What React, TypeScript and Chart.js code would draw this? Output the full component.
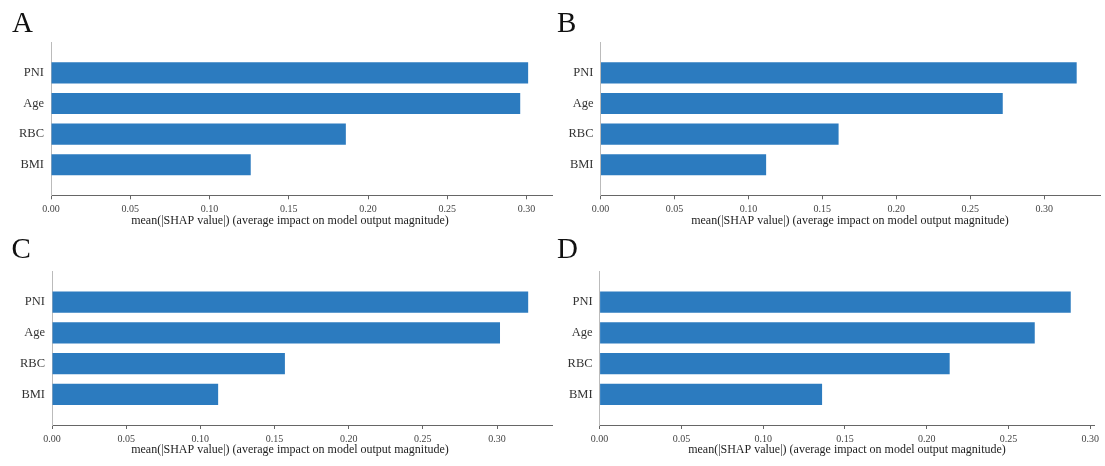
import React, { useEffect, useRef } from 'react';
import { Chart, registerables } from 'chart.js';

Chart.register(...registerables);

// ---- data ----
const features = ['PNI', 'Age', 'RBC', 'BMI'];
const valuesA = [0.301, 0.296, 0.186, 0.126];
const valuesB = [0.322, 0.272, 0.161, 0.112];
const valuesC = [0.321, 0.302, 0.157, 0.112];
const valuesD = [0.288, 0.266, 0.214, 0.136];
const panelLetters = ['A', 'B', 'C', 'D'];
const xTickStep = 0.05;
const xTitle = 'mean(|SHAP value|) (average impact on model output magnitude)';

// ---- layout / style ----
const W = 1105;
const H = 466;
const XH = 32;
const FONT = "'Liberation Serif', 'Times New Roman', serif";
const BAR = '#2c7bbf';

const panels = [
  { values: valuesA, left: 51, right: 552, top: 42.3, bottom: 195.3, titleX: 290, titleY: 220.5, lx: 12, ly: 8 },
  { values: valuesB, left: 600.5, right: 1100.5, top: 42.3, bottom: 195.3, titleX: 850, titleY: 220.5, lx: 557, ly: 8 },
  { values: valuesC, left: 52, right: 552, top: 271.5, bottom: 425, titleX: 290, titleY: 450, lx: 11.5, ly: 234 },
  { values: valuesD, left: 599.6, right: 1094.3, top: 271.5, bottom: 425, titleX: 847, titleY: 450, lx: 557, ly: 234 },
];

const titlePlugin = {
  id: 'xTitleText',
  afterDraw(chart: any, _args: any, opts: any) {
    const ctx = chart.ctx;
    ctx.save();
    ctx.font = `12px ${FONT}`;
    ctx.fillStyle = '#222';
    ctx.textAlign = 'center';
    ctx.textBaseline = 'middle';
    ctx.fillText(opts.text, opts.x, opts.y);
    ctx.restore();
  },
};

function makeChart(canvas: HTMLCanvasElement, p: any) {
  const labels = ['', ...features, ''];
  const data = [null, ...p.values, null];
  const max = Math.max(...p.values) * 1.05;
  return new Chart(canvas, {
    type: 'bar',
    data: {
      labels,
      datasets: [
        {
          data,
          backgroundColor: BAR,
          borderWidth: 0,
          barPercentage: 0.69,
          categoryPercentage: 1,
        },
      ],
    },
    plugins: [titlePlugin],
    options: {
      indexAxis: 'y',
      responsive: false,
      animation: false,
      devicePixelRatio: 1,
      layout: {
        padding: { left: 0, top: p.top, right: W - p.right, bottom: H - p.bottom - XH },
      },
      plugins: {
        legend: { display: false },
        tooltip: { enabled: false },
        xTitleText: { text: xTitle, x: p.titleX, y: p.titleY },
      } as any,
      scales: {
        x: {
          type: 'linear',
          min: 0,
          max,
          afterFit: (s: any) => {
            s.height = XH;
          },
          ticks: {
            stepSize: xTickStep,
            includeBounds: false,
            autoSkip: false,
            maxRotation: 0,
            padding: 4,
            color: '#444',
            font: { family: FONT, size: 10 },
            callback: (v: any) => Number(v).toFixed(2),
          },
          grid: { display: true, drawOnChartArea: false, drawTicks: true, tickLength: 4, color: '#666', lineWidth: 1 },
          border: { display: true, color: '#666', width: 1 },
        },
        y: {
          type: 'category',
          offset: false,
          afterFit: (s: any) => {
            s.width = p.left;
          },
          grid: { display: false, drawTicks: false },
          border: { display: true, color: '#bbb', width: 1 },
          ticks: { padding: 7, color: '#333', font: { family: FONT, size: 12.5 }, autoSkip: false },
        },
      },
    } as any,
  });
}

function Panel({ p }: { p: any }) {
  const ref = useRef<HTMLCanvasElement | null>(null);
  useEffect(() => {
    if (!ref.current) return;
    const c = makeChart(ref.current, p);
    return () => c.destroy();
  }, [p]);
  return (
    <canvas
      ref={ref}
      width={W}
      height={H}
      style={{ position: 'absolute', left: 0, top: 0, width: W, height: H }}
    />
  );
}

export default function App() {
  return (
    <div style={{ position: 'fixed', left: 0, top: 0, width: W, height: H, background: '#fff', overflow: 'hidden' }}>
      {panels.map((p, i) => (
        <Panel key={i} p={p} />
      ))}
      {panels.map((p, i) => (
        <div
          key={'l' + i}
          style={{
            position: 'absolute',
            left: p.lx,
            top: p.ly,
            fontFamily: FONT,
            fontSize: 29,
            lineHeight: '29px',
            color: '#111',
          }}
        >
          {panelLetters[i]}
        </div>
      ))}
    </div>
  );
}
